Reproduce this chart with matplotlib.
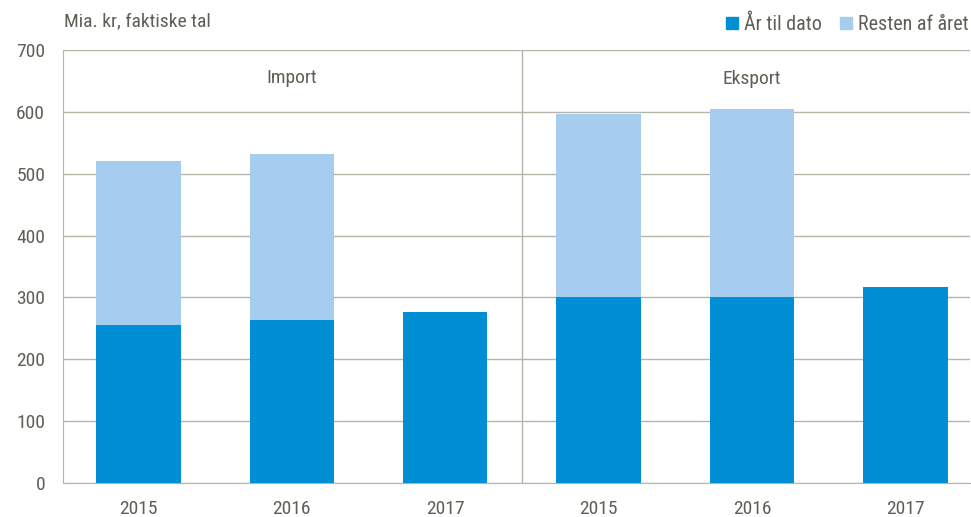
import matplotlib.pyplot as plt
from matplotlib.patches import Patch

plt.rcParams['font.family'] = ['Roboto Condensed', 'Liberation Sans', 'DejaVu Sans']

aar = ["2015", "2016", "2017", "2015", "2016", "2017"]
aar_til_dato = [255, 263, 276, 301, 300, 317]
resten = [265, 269, 0, 295, 305, 0]
grupper = ["Import", "Eksport"]

tekst = "#5f5f55"
gitter = "#b5b5a8"
moerk = "#008fd5"
lys = "#a6cdf0"
fs = 14

fig = plt.figure(figsize=(9.71, 5.17), dpi=100)
ax = fig.add_axes([0.065, 0.066, 0.934, 0.837])

x = list(range(len(aar)))
ax.bar(x, aar_til_dato, width=0.55, color=moerk, zorder=3)
ax.bar(x, resten, width=0.55, bottom=aar_til_dato, color=lys, zorder=3)

ax.set_ylim(0, 700)
ax.set_xlim(-0.49, 5.42)
ax.set_yticks(range(0, 701, 100))
ax.set_xticks(x)
ax.set_xticklabels(aar)
ax.yaxis.grid(True, color=gitter, linewidth=1, zorder=0)
ax.axvline(2.5, color=gitter, linewidth=1, zorder=1)

for s in ["top", "right"]:
    ax.spines[s].set_visible(False)
ax.spines["left"].set_color(gitter)
ax.spines["bottom"].set_color(gitter)
ax.tick_params(length=0, labelsize=fs, colors=tekst)
ax.tick_params(axis="y", pad=13)
ax.tick_params(axis="x", pad=12)

ax.text(1, 655, grupper[0], ha="center", va="center", fontsize=fs, color=tekst)
ax.text(4, 653, grupper[1], ha="center", va="center", fontsize=fs, color=tekst)

fig.text(0.066, 0.958, "Mia. kr, faktiske tal", ha="left", va="center", fontsize=fs, color=tekst)

handles = [Patch(color=moerk, label="År til dato"), Patch(color=lys, label="Resten af året")]
fig.legend(handles=handles, loc="center right", bbox_to_anchor=(1.016, 0.953), ncol=2,
           frameon=False, fontsize=14.5, labelcolor=tekst, handlelength=0.6,
           handleheight=0.6, handletextpad=0.3, columnspacing=0.9)

fig.savefig("out.png", dpi=100)
